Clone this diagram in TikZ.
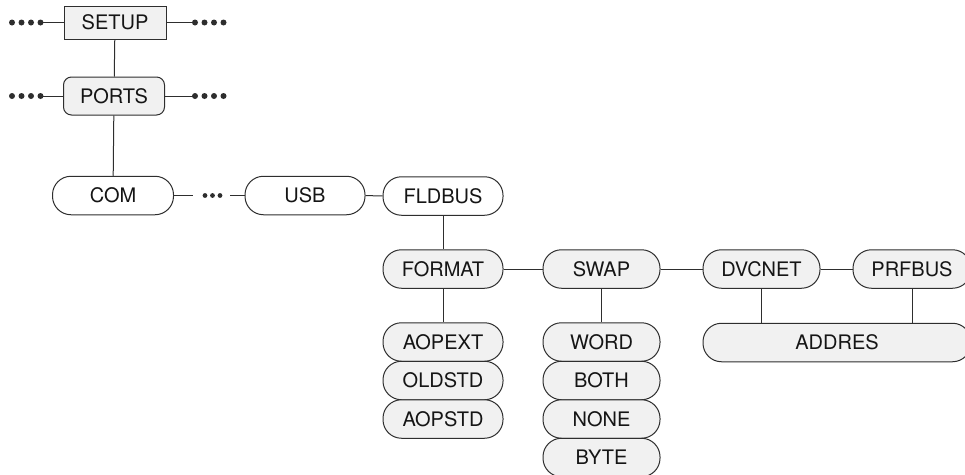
\documentclass[tikz,border=0pt]{standalone}
\usepackage{fontspec}
\setmainfont{TeX Gyre Heros}
\usetikzlibrary{positioning}
\definecolor{boxgray}{HTML}{F1F1F1}
\definecolor{linegray}{HTML}{2E2E2E}
\definecolor{textgray}{HTML}{151515}
\tikzset{
  menu/.style={draw=linegray,line width=1pt,fill=boxgray,text=textgray,inner sep=0pt,
    minimum width=119pt,minimum height=38.5pt},
  pill/.style={menu,rounded corners=18.5pt},
  openpill/.style={pill,fill=white},
  link/.style={draw=linegray,line width=1pt},
  dot/.style={fill=linegray},
}
\begin{document}
\begin{tikzpicture}[x=1pt,y=-1pt,font=\fontsize{20}{23}\selectfont]
  \clip (0,0) rectangle (965,474);
  % top levels
  \node[menu,minimum width=102pt,minimum height=33pt] (setup) at (115,22.5) {SETUP};
  \node[menu,rounded corners=8pt,minimum width=101pt,minimum height=38pt] (ports) at (114,96) {PORTS};
  \foreach \n/\y in {setup/22.5,ports/96} {
    \coordinate (\n L) at (40,\y);
    \coordinate (\n R) at (195,\y);
    \draw[link] (\n L) -- (\n);
    \draw[link] (\n) -- (\n R);
    \foreach \dx in {0,9.5,19,28.5} {
      \fill[dot] (12+\dx,\y) circle (3pt);
      \fill[dot] (195+\dx,\y) circle (3pt);
    }
  }
  \draw[link] (setup) -- (ports);
  % ports row
  \node[openpill,minimum width=121pt] (com) at (113,195.5) {COM};
  \node[openpill,minimum width=120pt] (usb) at (305,195.5) {USB};
  \node[openpill,minimum width=120pt] (fldbus) at (443,196) {FLDBUS};
  \draw[link] (ports) -- (com);
  \coordinate (comR) at (193,195.5);
  \coordinate (usbL) at (230,195.5);
  \draw[link] (com) -- (comR);
  \draw[link] (usbL) -- (usb);
  \foreach \dx in {0,7.5,15} \fill[dot] (205+\dx,195.5) circle (2.4pt);
  \draw[link] (usb) -- (fldbus);
  % fieldbus menu
  \node[pill,minimum width=120pt] (format) at (443,269) {FORMAT};
  \node[pill,minimum width=117pt] (swap) at (601.5,269) {SWAP};
  \node[pill,minimum width=117pt] (dvcnet) at (761.5,269) {DVCNET};
  \node[pill,minimum width=118pt] (prfbus) at (912,269) {PRFBUS};
  \draw[link] (fldbus) -- (format);
  \draw[link] (format) -- (swap);
  \draw[link] (swap) -- (dvcnet);
  \draw[link] (dvcnet) -- (prfbus);
  % format values
  \node[pill,minimum width=120pt] (aopext) at (443,342) {AOPEXT};
  \node[pill,minimum width=120pt] (oldstd) at (443,380.5) {OLDSTD};
  \node[pill,minimum width=120pt] (aopstd) at (443,419) {AOPSTD};
  \draw[link] (format) -- (aopext);
  % swap values
  \node[pill,minimum width=117pt] (word) at (601.5,342) {WORD};
  \node[pill,minimum width=117pt] (both) at (601.5,380.5) {BOTH};
  \node[pill,minimum width=117pt] (none) at (601.5,419) {NONE};
  \node[pill,minimum width=117pt] (byte) at (601.5,457.5) {BYTE};
  \draw[link] (swap) -- (word);
  % address
  \node[pill,minimum width=268pt] (addres) at (837,342.5) {ADDRES};
  \draw[link] (dvcnet) -- (dvcnet |- addres.north);
  \draw[link] (prfbus) -- (prfbus |- addres.north);
\end{tikzpicture}
\end{document}
